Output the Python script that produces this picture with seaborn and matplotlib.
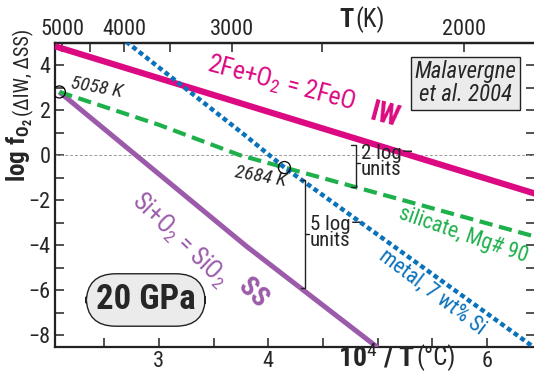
import matplotlib
matplotlib.use("Agg")
import matplotlib.pyplot as plt
import matplotlib.font_manager as fm
import seaborn as sns
import numpy as np
import pandas as pd

# ---------------- data ----------------
iw_x = [2.05, 6.44]
iw_y = [4.84, -1.71]
ss_x = [2.09, 3.80, 5.00]
ss_y = [2.81, -4.05, -8.55]
sil_x = [2.09, 3.00, 3.74, 4.148, 4.79, 6.44]
sil_y = [2.81, 1.35, 0.00, -0.55, -1.41, -3.62]
met_x = [2.70, 3.786, 4.148, 6.44]
met_y = [5.05, 0.89, -0.55, -8.58]
pt_T = [5058, 2684]          # K
pt_y = [2.81, -0.55]
x_ticks = [3, 4, 5, 6]
x_ticklabels = ["3", "4", "", "6"]
y_ticks = [-8, -6, -4, -2, 0, 2, 4]
top_T = [5000, 4000, 3000, 2000]
top_T_minor = [4500, 3500, 2500]

# ---------------- style ----------------
sns.set_style("ticks")
avail = {f.name for f in fm.fontManager.ttflist}
FAM = [f for f in ["Liberation Sans Narrow", "Roboto Condensed", "Open Sans", "Liberation Sans"] if f in avail][:1] + ["DejaVu Sans"]
plt.rcParams["font.family"] = FAM
plt.rcParams["mathtext.fontset"] = "custom"
plt.rcParams["mathtext.rm"] = FAM[0]
plt.rcParams["mathtext.bf"] = FAM[0] + ":bold"
plt.rcParams["mathtext.it"] = FAM[0] + ":italic"

MAG = "#DC0A82"
PUR = "#9B5BAA"
GRN = "#1EB04B"
BLU = "#0A72BA"

W, H = 534, 378
fig = plt.figure(figsize=(W / 100, H / 100), dpi=100)
ax = fig.add_axes([55 / W, 31 / H, (W - 55) / W + 0.002, (347 - 42.7) / H])

def fx(px):
    return px / W
def fy(py):
    return 1 - py / H

ax.set_xlim(2.05, 6.44)
ax.set_ylim(-8.53, 5.0)

# zero line
ax.axhline(0, color="#9a9a9a", lw=0.7, ls=(0, (3, 2)), zorder=1)

sns.lineplot(x=iw_x, y=iw_y, ax=ax, color=MAG, lw=4.5, sort=False, zorder=3)
sns.lineplot(x=ss_x, y=ss_y, ax=ax, color=PUR, lw=3.6, sort=False, zorder=3)
sns.lineplot(x=sil_x, y=sil_y, ax=ax, color=GRN, lw=3.0, sort=False, zorder=4,
             linestyle=(0, (3.2, 1.6)))
sns.lineplot(x=met_x, y=met_y, ax=ax, color=BLU, lw=3.2, sort=False, zorder=4,
             linestyle=(0, (1.1, 0.75)))
for l in ax.lines:
    l.set_solid_capstyle("butt")

pt_x = [1e4 / (t - 273) for t in pt_T]
sns.scatterplot(x=pt_x, y=pt_y, ax=ax, s=75, facecolor="none", edgecolor="black",
                linewidth=0.9, zorder=6)

# ---------------- axes ----------------
ax.set_xticks(x_ticks)
ax.set_xticklabels(x_ticklabels)
ax.set_xticks([2.5, 3.5, 4.5, 5.5], minor=True)
ax.set_yticks(y_ticks)
ax.set_yticklabels([str(v).replace("-", "\u2212") for v in y_ticks])
ax.set_yticks([-7, -5, -3, -1, 1, 3], minor=True)
ax.tick_params(axis="both", which="both", direction="in", width=1.1, labelsize=16,
               color="#222222", length=6.5)
ax.tick_params(axis="y", which="both", right=True, pad=3)
ax.tick_params(axis="x", which="both", top=False, pad=3)
for s in ["left", "bottom", "top"]:
    ax.spines[s].set_linewidth(1.6)
    ax.spines[s].set_color("#222222")
ax.spines["right"].set_visible(False)

def fwd(x):
    x = np.asarray(x, dtype=float)
    with np.errstate(divide="ignore"):
        return 1e4 / x + 273
def inv(t):
    t = np.asarray(t, dtype=float)
    with np.errstate(divide="ignore"):
        return 1e4 / (t - 273)

sec = ax.secondary_xaxis("top", functions=(fwd, inv))
sec.set_xticks(top_T)
sec.set_xticklabels([str(v) for v in top_T])
sec.set_xticks(top_T_minor, minor=True)
sec.tick_params(axis="x", which="both", direction="in", width=1.1, length=6.5,
                labelsize=16, pad=2, color="#222222")
sec.spines["top"].set_linewidth(1.6)

# axis labels
fig.text(fx(415), fy(358), "10$^{4}$ / T", fontsize=20, fontweight="bold", ha="right", va="center")
fig.text(fx(416), fy(358), "(°C)", fontsize=18, ha="left", va="center")
fig.text(fx(354), fy(20), "T", fontsize=19, fontweight="bold", ha="right", va="center")
fig.text(fx(355), fy(20), "(K)", fontsize=18, ha="left", va="center")
fig.text(fx(20), fy(150), r"log f$_\mathbf{O_2}$", fontsize=18, fontweight="bold",
         rotation=90, ha="center", va="center")
fig.text(fx(23), fy(72), "(ΔIW, ΔSS)", fontsize=14.5, rotation=90, ha="center", va="center")

# line labels
ax.text(4.12, 3.2, "2Fe+O$_2$ = 2FeO", color=MAG, fontsize=18.5, rotation=-15,
        ha="center", va="center", rotation_mode="anchor")
ax.text(5.06, 1.78, "IW", color=MAG, fontsize=21, fontweight="bold", rotation=-15,
        ha="center", va="center", rotation_mode="anchor")
ax.text(3.19, -3.75, "Si+O$_2$ = SiO$_2$", color=PUR, fontsize=18, rotation=-44,
        ha="center", va="center", rotation_mode="anchor")
ax.text(3.86, -6.13, "SS", color=PUR, fontsize=20, fontweight="bold", rotation=-44,
        ha="center", va="center", rotation_mode="anchor")
ax.text(5.78, -3.55, "silicate, Mg# 90", color=GRN, fontsize=15.5, rotation=-19,
        ha="center", va="center", rotation_mode="anchor")
ax.text(5.50, -6.08, "metal, 7 wt% Si", color=BLU, fontsize=15.5, rotation=-37,
        ha="center", va="center", rotation_mode="anchor")
ax.text(2.43, 3.0, f"{pt_T[0]} K", fontsize=14, style="italic", rotation=-10,
        ha="center", va="center", rotation_mode="anchor")
ax.text(3.93, -0.95, f"{pt_T[1]} K", fontsize=14, style="italic", rotation=-10,
        ha="center", va="center", rotation_mode="anchor")

# brackets
def bracket(x, y0, y1, ym):
    d = 0.04
    ax.plot([x - d, x, x, x - d], [y0, y0, y1, y1], color="#222222", lw=1.0, zorder=5)
    ax.plot([x, x + d], [ym, ym], color="#222222", lw=1.0, zorder=5)

bracket(4.80, 0.44, -1.42, -0.36)
ax.text(4.845, -0.30, "2 log\u2013\nunits", fontsize=15, ha="left", va="center", linespacing=0.8)
bracket(4.335, -1.11, -5.91, -3.51)
ax.text(4.38, -3.45, "5 log\u2013\nunits", fontsize=15, ha="left", va="center", linespacing=0.8)

# boxes
ax.text(5.806, 3.2, "Malavergne\net al. 2004", fontsize=16.5, style="italic", ha="center",
        va="center", linespacing=1.0,
        bbox=dict(boxstyle="square,pad=0.15", fc="#EBEBEB", ec="#222222", lw=1.0), zorder=7)
ax.text(2.88, -6.44, "20 GPa", fontsize=25, fontweight="bold", ha="center", va="center",
        bbox=dict(boxstyle="round,pad=0.28,rounding_size=0.85", fc="#EBEBEB", ec="#222222", lw=1.0),
        zorder=7)

fig.savefig("out.png", dpi=100)
